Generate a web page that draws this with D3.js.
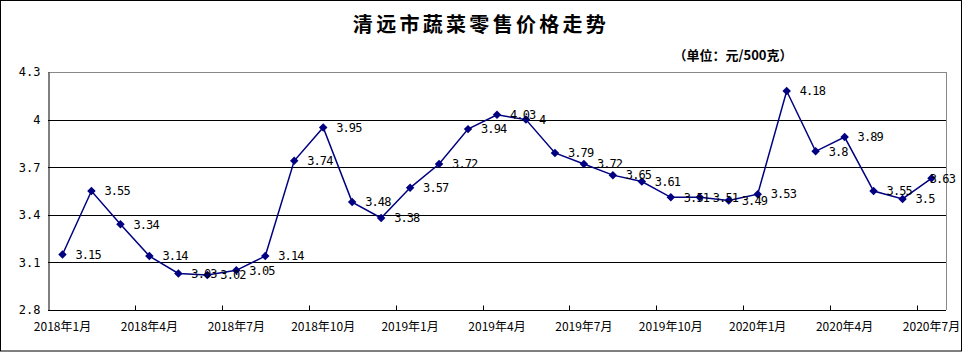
<!DOCTYPE html>
<html>
<head>
<meta charset="utf-8">
<script src="https://cdn.jsdelivr.net/npm/d3@7"></script>
<style>
  body { margin: 0; background: #ffffff; }
  svg { display: block; }
</style>
</head>
<body>
<div id="chart-area"></div>
<script>
// data
const months = ["2018年1月", "2018年2月", "2018年3月", "2018年4月", "2018年5月", "2018年6月",
    "2018年7月", "2018年8月", "2018年9月", "2018年10月", "2018年11月", "2018年12月",
    "2019年1月", "2019年2月", "2019年3月", "2019年4月", "2019年5月", "2019年6月",
    "2019年7月", "2019年8月", "2019年9月", "2019年10月", "2019年11月", "2019年12月",
    "2020年1月", "2020年2月", "2020年3月", "2020年4月", "2020年5月", "2020年6月", "2020年7月"];
const prices = [3.15, 3.55, 3.34, 3.14, 3.03, 3.02, 3.05, 3.14, 3.74, 3.95, 3.48, 3.38,
    3.57, 3.72, 3.94, 4.03, 4.00, 3.79, 3.72, 3.65, 3.61, 3.51, 3.51, 3.49,
    3.53, 4.18, 3.80, 3.89, 3.55, 3.50, 3.63];
const yTicks = [2.8, 3.1, 3.4, 3.7, 4, 4.3];
const titleText = "清远市蔬菜零售价格走势";
const unitText = "（单位：元/500克）";

// SVG size
const W = 964, H = 353;
let margin = {top: 72, right: 18, bottom: 43, left: 48};
let width = 946 - margin.left;
let height = 310 - margin.top;

const numFont = "'DejaVu Sans Mono', 'Liberation Mono', monospace";
const cjkFont = "'Noto Sans CJK SC', 'Noto Sans', sans-serif";
const navy = "#000080";

const root = d3.select("#chart-area").append("svg")
    .attr("width", W)
    .attr("height", H);

// outer frame
root.append("rect")
    .attr("x", 0.5).attr("y", 0.5)
    .attr("width", 961).attr("height", 350.5)
    .attr("fill", "#fff")
    .attr("stroke", "#000");

// title + unit
root.append("text")
    .attr("x", 481).attr("y", 32)
    .attr("text-anchor", "middle")
    .style("font-family", cjkFont)
    .style("font-size", "20px")
    .style("font-weight", "bold")
    .style("letter-spacing", "3.3px")
    .text(titleText);

root.append("text")
    .attr("x", 733).attr("y", 59.5)
    .attr("text-anchor", "middle")
    .style("font-family", cjkFont)
    .style("font-size", "13px")
    .style("font-weight", "bold")
    .text(unitText);

const svg = root.append("g")
    .attr("transform", "translate(" + margin.left + "," + margin.top + ")");

// scales
const xScale = d3.scaleBand()
    .domain(months)
    .range([0, width]);

const yScale = d3.scaleLinear()
    .domain([d3.min(yTicks), d3.max(yTicks)])
    .range([height, 0]);

const cx = d => xScale(d) + xScale.bandwidth() / 2;

// grid lines
svg.selectAll(".grid")
    .data(yTicks.slice(1))
    .enter().append("line")
    .attr("class", "grid")
    .attr("x1", 0).attr("x2", width)
    .attr("y1", d => Math.round(yScale(d)) + 0.5)
    .attr("y2", d => Math.round(yScale(d)) + 0.5)
    .attr("stroke", (d, i, n) => i === n.length - 1 ? "#888" : "#000")
    .attr("stroke-width", 1);

// right border of plot area
svg.append("line")
    .attr("x1", width + 0.5).attr("x2", width + 0.5)
    .attr("y1", 0).attr("y2", height)
    .attr("stroke", "#888");

// y axis
const yAxis = d3.axisLeft(yScale)
    .tickValues(yTicks)
    .tickSize(0)
    .tickPadding(8)
    .tickFormat(d => String(d));

svg.append("g")
    .attr("class", "y-axis")
    .attr("transform", "translate(0.5,0)")
    .call(yAxis)
    .call(g => g.select(".domain").attr("stroke", "#000"))
    .selectAll("text")
    .style("font-family", numFont)
    .style("font-size", "12px")
    .style("fill", "#000");

// x axis: ticks on category boundaries every 3 months, pointing inward
const xAxisG = svg.append("g")
    .attr("class", "x-axis")
    .attr("transform", "translate(0," + (Math.round(height) + 0.5) + ")");

xAxisG.append("line")
    .attr("x1", 0).attr("x2", width)
    .attr("stroke", "#000");

xAxisG.selectAll(".xtick")
    .data(months.filter((m, i) => i % 3 === 0 && i > 0))
    .enter().append("line")
    .attr("class", "xtick")
    .attr("x1", d => Math.round(xScale(d)) + 0.5)
    .attr("x2", d => Math.round(xScale(d)) + 0.5)
    .attr("y1", 0).attr("y2", -5)
    .attr("stroke", "#000");

xAxisG.selectAll(".xlabel")
    .data(months.filter((m, i) => i % 3 === 0))
    .enter().append("text")
    .attr("class", "xlabel")
    .attr("x", d => cx(d))
    .attr("y", 20)
    .attr("text-anchor", "middle")
    .style("font-family", cjkFont)
    .style("font-size", "12px")
    .text(d => d);

// line
const line = d3.line()
    .x((d, i) => cx(months[i]))
    .y(d => yScale(d));

svg.append("path")
    .datum(prices)
    .attr("fill", "none")
    .attr("stroke", navy)
    .attr("stroke-width", 1.5)
    .attr("d", line);

// diamond markers
svg.selectAll(".marker")
    .data(prices)
    .enter().append("path")
    .attr("class", "marker")
    .attr("d", d3.symbol(d3.symbolSquare, 36))
    .attr("transform", (d, i) => "translate(" + cx(months[i]) + "," + yScale(d) + ") rotate(45)")
    .attr("fill", navy);

// value labels (kept inside the frame, like the last one in the original)
const labelRight = 955 - margin.left;
svg.selectAll(".value-label")
    .data(prices)
    .enter().append("text")
    .attr("class", "value-label")
    .attr("x", (d, i) => cx(months[i]) + 13)
    .attr("y", d => yScale(d))
    .attr("dy", "0.36em")
    .style("font-family", numFont)
    .style("font-size", "12px")
    .style("letter-spacing", "-0.9px")
    .text(d => String(d))
    .each(function () {
        const el = d3.select(this);
        const w = this.getComputedTextLength();
        const x = +el.attr("x");
        if (x + w > labelRight) el.attr("x", labelRight - w);
    });
</script>
</body>
</html>
